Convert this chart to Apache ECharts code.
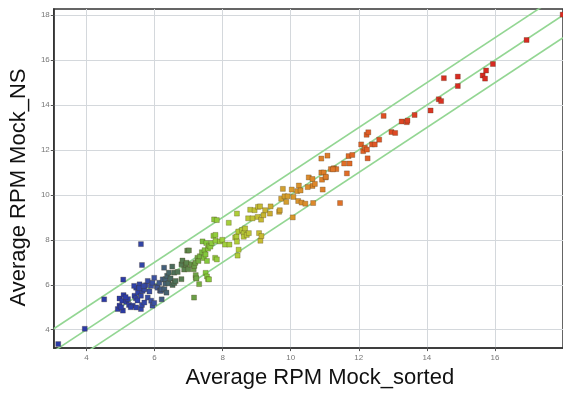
<!DOCTYPE html>
<html>
<head>
<meta charset="utf-8">
<script src="https://cdn.jsdelivr.net/npm/echarts@6/dist/echarts.min.js"></script>
<style>
  html, body { margin: 0; padding: 0; background: #fff; }
  #chart { width: 563px; height: 394px; }
</style>
</head>
<body>
<div id="chart"></div>
<script>
// tick values for both axes
const xTicks = [4, 6, 8, 10, 12, 14, 16];
const yTicks = [4, 6, 8, 10, 12, 14, 16, 18];

// offsets of the three guide lines (y = x + offset)
const guideOffsets = [1, 0, -1];

// [Average RPM Mock_sorted, Average RPM Mock_NS]
const bluePoints = [
  [3.17, 3.36], [3.95, 4.04], [4.52, 5.35], [5.08, 6.23], [5.6, 7.81], [5.63, 6.88],
  [4.92, 4.92], [4.97, 5.07], [4.97, 5.39], [5.05, 5.29], [5.07, 4.85], [5.09, 5.54],
  [5.17, 5.24], [5.22, 5.36], [5.25, 5.1], [5.36, 5.07], [5.41, 5.51], [5.46, 4.99],
  [5.46, 5.87], [5.51, 5.65], [5.56, 6.02], [5.6, 5.51], [5.6, 4.92], [5.63, 5.1],
  [5.65, 5.73], [5.7, 5.8], [5.7, 5.21], [5.75, 5.98], [5.8, 6.17], [5.8, 5.43],
  [5.9, 5.95], [5.9, 5.29], [5.94, 6.09], [5.94, 5.07], [5.99, 6.31], [5.99, 5.19],
  [5.4, 5.95], [5.45, 5.4], [5.55, 5.85], [5.3, 5.0], [5.15, 5.45], [5.85, 5.7],
  [5.5, 5.3], [5.68, 5.95], [5.02, 5.0]
];
const slatePoints = [
  [6.07, 5.93], [6.09, 5.87], [6.14, 6.09], [6.16, 5.74], [6.19, 5.73], [6.21, 5.81],
  [6.21, 5.35], [6.24, 6.24], [6.29, 5.8], [6.32, 6.06], [6.32, 6.25], [6.35, 5.65],
  [6.37, 6.4], [6.41, 6.06], [6.42, 6.54], [6.47, 6.28], [6.28, 6.76], [6.52, 6.81],
  [6.53, 5.99], [6.58, 6.54], [6.58, 6.08], [6.62, 6.17], [6.68, 6.57], [6.79, 6.25],
  [6.79, 6.91], [6.82, 7.08], [6.87, 6.68], [6.96, 7.52], [6.92, 6.9]
];
const greenPoints = [
  [6.99, 6.69], [7.01, 7.53], [6.94, 6.98], [7.08, 6.91], [7.15, 6.69], [7.17, 6.84],
  [7.2, 6.98], [7.16, 5.43], [7.21, 6.31], [7.21, 6.43], [7.23, 6.28], [7.26, 7.2],
  [7.29, 7.06], [7.31, 6.03], [7.33, 7.27], [7.39, 7.45], [7.41, 7.93], [7.45, 7.19],
  [7.47, 7.54], [7.5, 7.35], [7.5, 6.53], [7.52, 7.86], [7.54, 7.06], [7.54, 6.37],
  [7.57, 7.61], [7.57, 6.25], [7.6, 7.74], [7.6, 6.24], [7.64, 7.7], [7.68, 7.86],
  [7.73, 8.18], [7.75, 8.91], [7.78, 7.2], [7.79, 7.96], [7.79, 8.22], [7.83, 7.13],
  [7.83, 8.88], [7.92, 7.93], [7.99, 8.0], [8.07, 7.79], [8.18, 8.76], [8.2, 7.79],
  [8.37, 8.11], [8.41, 8.15], [8.42, 9.17], [8.42, 7.92], [8.44, 7.3], [8.46, 8.37],
  [8.47, 7.56], [8.57, 8.44], [8.62, 8.3], [8.62, 8.14], [8.66, 8.51], [8.71, 8.22],
  [8.75, 8.96], [8.77, 8.3], [8.81, 9.34], [8.88, 8.96], [8.94, 9.32], [9.03, 9.02],
  [9.04, 9.47], [9.07, 8.3], [9.1, 9.49], [9.11, 7.96], [9.13, 8.9], [9.14, 8.17],
  [9.2, 9.1], [9.25, 9.32], [9.39, 9.17], [9.41, 9.49], [9.66, 9.25], [9.68, 9.32]
];
const orangePoints = [
  [9.72, 9.83], [9.77, 10.27], [9.82, 9.94], [9.87, 9.69], [9.91, 9.94], [10.03, 10.24],
  [10.06, 9.0], [10.08, 9.91], [10.19, 10.17], [10.24, 10.42], [10.29, 10.2], [10.22, 9.73],
  [10.32, 9.66], [10.43, 9.61], [10.53, 10.78], [10.64, 10.71], [10.64, 10.4], [10.5, 10.35],
  [10.71, 10.49], [10.66, 9.64], [10.9, 11.62], [11.08, 11.75], [10.9, 11.0], [10.97, 11.0],
  [10.92, 10.68], [10.94, 10.24], [11.03, 10.78], [11.18, 11.15], [11.27, 11.19], [11.34, 11.15],
  [11.57, 11.4], [11.73, 11.4], [11.65, 10.96], [11.45, 9.64], [11.7, 11.73], [11.81, 11.78],
  [11.24, 11.14], [11.03, 10.81]
];
const redPoints = [
  [12.07, 12.25], [12.13, 11.95], [12.18, 12.1], [12.24, 12.02], [12.26, 11.63], [12.23, 12.68],
  [12.28, 12.79], [12.39, 12.25], [12.47, 12.25], [12.6, 12.46], [12.73, 13.52], [12.96, 12.8],
  [13.07, 12.76], [13.26, 13.27], [13.41, 13.24], [13.43, 13.31], [13.64, 13.56], [14.11, 13.76],
  [14.35, 14.26], [14.42, 14.18], [14.5, 15.2], [14.91, 15.27], [14.91, 14.85], [15.64, 15.32],
  [15.71, 15.18], [15.74, 15.54], [15.94, 15.83], [16.93, 16.9], [17.99, 18.03]
];

// colour ramp along x, from 5 to 15 in steps of 0.5
const colorRamp = [
  '#2b3aa6', '#2f42a8', '#3c52a0', '#4a6a5e', '#5f8a4c', '#82c83c', '#9cd03c',
  '#b2cc38', '#c4c034', '#cca830', '#d89a2e', '#dc8c2c', '#de7e2a', '#e07028',
  '#e06226', '#e05626', '#de4a24', '#dc4024', '#da3824', '#d83022', '#d82a22'
];

const allPoints = [].concat(bluePoints, slatePoints, greenPoints, orangePoints, redPoints);

const xMin = 3.04, xMax = 18;
const yMin = 3.18, yMax = 18.28;

const chart = echarts.init(document.getElementById('chart'));

const guideSeries = guideOffsets.map(off => ({
  type: 'line',
  data: [[xMin, xMin + off], [xMax, xMax + off]],
  symbol: 'none',
  silent: true,
  z: 1,
  lineStyle: { color: '#93d693', width: 1.6 }
}));

chart.setOption({
  animation: false,
  grid: {
    left: 50, right: 0, top: 9, bottom: 41,
    show: true, borderColor: '#333', borderWidth: 1.5, backgroundColor: '#fff'
  },
  visualMap: {
    show: false,
    type: 'continuous',
    dimension: 0,
    seriesIndex: 3,
    min: 5,
    max: 15,
    inRange: { color: colorRamp }
  },
  xAxis: {
    type: 'value',
    min: xMin,
    max: xMax,
    name: 'Average RPM Mock_sorted',
    nameLocation: 'middle',
    nameGap: 16,
    nameTextStyle: {
      fontFamily: 'Liberation Sans', fontSize: 22, color: '#111', padding: [0, 0, 0, 23]
    },
    axisLine: { show: true, lineStyle: { color: '#333', width: 1.5 } },
    axisTick: { show: true, length: 3, customValues: xTicks, lineStyle: { color: '#555' } },
    axisLabel: {
      customValues: xTicks, fontSize: 8, color: '#777', margin: 6,
      fontFamily: 'Liberation Sans'
    },
    splitLine: { show: true, lineStyle: { color: '#d4d8dc', width: 1 } }
  },
  yAxis: {
    type: 'value',
    min: yMin,
    max: yMax,
    name: 'Average RPM Mock_NS',
    nameLocation: 'middle',
    nameGap: 19,
    nameTextStyle: {
      fontFamily: 'Liberation Sans', fontSize: 22, color: '#111', padding: [0, 18, 0, 0]
    },
    axisLine: { show: true, lineStyle: { color: '#333', width: 1.5 } },
    axisTick: { show: true, length: 3, customValues: yTicks, lineStyle: { color: '#555' } },
    axisLabel: {
      customValues: yTicks, fontSize: 8, color: '#777', margin: 4,
      fontFamily: 'Liberation Sans'
    },
    splitLine: { show: true, lineStyle: { color: '#d4d8dc', width: 1 } }
  },
  series: guideSeries.concat([{
    type: 'scatter',
    data: allPoints,
    symbol: 'rect',
    symbolSize: 5,
    z: 3,
    itemStyle: { borderColor: 'rgba(70,50,20,0.4)', borderWidth: 0.7, opacity: 1 }
  }])
});
</script>
</body>
</html>
